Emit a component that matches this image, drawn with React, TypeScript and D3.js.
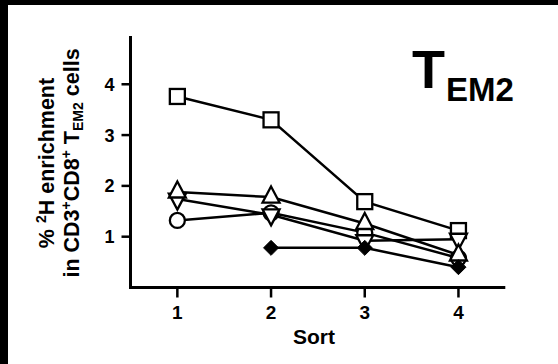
import * as React from "react";
import * as d3 from "d3";

// values (% 2H enrichment per sort)
const sorts: number[] = [1, 2, 3, 4];
const squareVals: (number | null)[] = [3.76, 3.3, 1.69, 1.12];
const triUpVals: (number | null)[] = [1.88, 1.78, 1.26, 0.64];
const triDownVals: (number | null)[] = [1.74, 1.43, 0.92, 0.95];
const circleVals: (number | null)[] = [1.32, 1.47, 1.08, 0.58];
const diamondVals: (number | null)[] = [null, 0.78, 0.78, 0.4];
const yTicks: number[] = [1, 2, 3, 4];

const svgWidth = 558;
const svgHeight = 364;
const xScale = d3.scaleLinear().domain([0.5, 4.5]).range([130.5, 505.3]);
const yScale = d3.scaleLinear().domain([0, 4.95]).range([287.5, 36]);

const series = [
  { vals: squareVals, shape: "square" },
  { vals: circleVals, shape: "circle" },
  { vals: triDownVals, shape: "down" },
  { vals: triUpVals, shape: "up" },
  { vals: diamondVals, shape: "diamond" }
];

const line = d3
  .line<number | null>()
  .defined(d => d !== null)
  .x((d, i) => xScale(sorts[i]))
  .y(d => yScale(d as number));

function marker(shape: string, cx: number, cy: number, key: string) {
  const st = { stroke: "#000", strokeWidth: 2.3, fill: "#fff" };
  if (shape === "square")
    return <rect key={key} x={cx - 7.5} y={cy - 7.5} width={15} height={15} {...st} />;
  if (shape === "circle") return <circle key={key} cx={cx} cy={cy} r={7.5} {...st} />;
  if (shape === "up")
    return <path key={key} d={`M${cx},${cy - 10.5}L${cx + 8.5},${cy + 5.5}L${cx - 8.5},${cy + 5.5}Z`} {...st} />;
  if (shape === "down")
    return <path key={key} d={`M${cx},${cy + 10.5}L${cx + 8.5},${cy - 5.5}L${cx - 8.5},${cy - 5.5}Z`} {...st} />;
  return (
    <path
      key={key}
      d={`M${cx},${cy - 7.5}L${cx + 7.5},${cy}L${cx},${cy + 7.5}L${cx - 7.5},${cy}Z`}
      fill="#000"
      stroke="#000"
      strokeWidth={1}
    />
  );
}

export default function App() {
  const font = "Arial, 'Liberation Sans', Helvetica, sans-serif";
  const x0 = xScale.range()[0];
  const x1 = xScale.range()[1];
  const y0 = yScale(0);
  const yTop = yScale.range()[1];
  return (
    <svg
      width={svgWidth}
      height={svgHeight}
      style={{ position: "absolute", left: 0, top: 0, background: "#fff" }}
      fontFamily={font}
      fontWeight="bold"
    >
      <rect x={0} y={0} width={svgWidth} height={svgHeight} fill="#fff" />
      <rect x={0} y={0} width={svgWidth} height={5} fill="#000" />
      <rect x={0} y={0} width={8} height={svgHeight} fill="#000" />

      {/* axes */}
      <line x1={x0} x2={x0} y1={yTop} y2={y0 + 1.5} stroke="#000" strokeWidth={3} />
      <line x1={x0 - 1.5} x2={x1} y1={y0} y2={y0} stroke="#000" strokeWidth={3} />
      {yTicks.map(t => (
        <g key={"y" + t}>
          <line x1={x0 - 9} x2={x0} y1={yScale(t)} y2={yScale(t)} stroke="#000" strokeWidth={2.5} />
          <text x={x0 - 21} y={yScale(t)} dy="0.36em" textAnchor="middle" fontSize={18}>
            {t}
          </text>
        </g>
      ))}
      {sorts.map(s => (
        <g key={"x" + s}>
          <line x1={xScale(s)} x2={xScale(s)} y1={y0} y2={y0 + 10} stroke="#000" strokeWidth={2.5} />
          <text x={xScale(s)} y={319} textAnchor="middle" fontSize={19}>
            {s}
          </text>
        </g>
      ))}
      <text x={314} y={344} textAnchor="middle" fontSize={21}>
        Sort
      </text>

      {/* y title */}
      <g transform="translate(54,163) rotate(-90)">
        <text x={0} y={0} textAnchor="middle" fontSize={21.5}>
          %{" "}
          <tspan fontSize={14} dy={-8}>
            2
          </tspan>
          <tspan dy={8}>H enrichment</tspan>
        </text>
        <text x={0} y={25} textAnchor="middle" fontSize={21.5}>
          in CD3
          <tspan fontSize={14} dy={-8}>
            +
          </tspan>
          <tspan dy={8}>CD8</tspan>
          <tspan fontSize={14} dy={-8}>
            +
          </tspan>
          <tspan dy={8}> T</tspan>
          <tspan fontSize={14} dy={4}>
            EM2
          </tspan>
          <tspan dy={-4}> cells</tspan>
        </text>
      </g>

      {/* panel label */}
      <text x={412} y={88} fontSize={54}>
        T
      </text>
      <text x={446} y={101} fontSize={33}>
        EM2
      </text>

      {/* data lines */}
      {series.map((s, i) => (
        <path key={"l" + i} d={line(s.vals) || ""} fill="none" stroke="#000" strokeWidth={2.5} />
      ))}
      {series.map((s, i) =>
        s.vals.map((v, j) =>
          v === null ? null : marker(s.shape, xScale(sorts[j]), yScale(v), "m" + i + "-" + j)
        )
      )}
    </svg>
  );
}
